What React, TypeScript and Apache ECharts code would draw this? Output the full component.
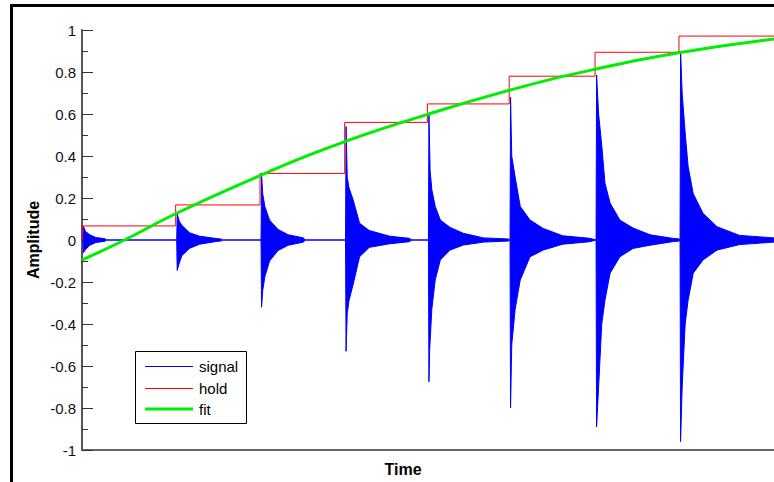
import React, { useEffect, useRef } from "react";
import * as echarts from "echarts";

// Burst onsets (seconds)
const burstOnsets = [0.012, 1.114, 2.106, 3.1, 4.075, 5.035, 6.047, 7.035];

// Upper envelope of each burst: [offset (s), amplitude]
const burstUpper: number[][][] = [
  [[0, 0], [0.005, 0.065], [0.03, 0.04], [0.08, 0.025], [0.15, 0.012], [0.26, 0.006], [0.27, 0]],
  [[0, 0], [0.006, 0.125], [0.03, 0.09], [0.06, 0.07], [0.15, 0.035], [0.27, 0.018], [0.45, 0.008], [0.53, 0.004], [0.54, 0]],
  [[0, 0], [0.006, 0.31], [0.02, 0.22], [0.045, 0.16], [0.1, 0.095], [0.2, 0.05], [0.32, 0.025], [0.5, 0.01], [0.52, 0]],
  [[0, 0], [0.006, 0.54], [0.02, 0.3], [0.04, 0.25], [0.09, 0.19], [0.165, 0.08], [0.28, 0.045], [0.52, 0.018], [0.75, 0.008], [0.78, 0]],
  [[0, 0], [0.006, 0.6], [0.02, 0.33], [0.04, 0.24], [0.08, 0.16], [0.14, 0.095], [0.255, 0.06], [0.41, 0.032], [0.65, 0.01], [0.94, 0.005]],
  [[0, 0], [0.006, 0.68], [0.02, 0.4], [0.06, 0.3], [0.12, 0.16], [0.235, 0.095], [0.39, 0.055], [0.62, 0.02], [0.94, 0.008]],
  [[0, 0], [0.006, 0.786], [0.03, 0.6], [0.067, 0.45], [0.105, 0.27], [0.165, 0.176], [0.28, 0.095], [0.435, 0.057], [0.635, 0.025], [0.9, 0.008], [0.98, 0.005]],
  [[0, 0], [0.006, 0.897], [0.025, 0.7], [0.06, 0.51], [0.095, 0.35], [0.155, 0.22], [0.27, 0.127], [0.435, 0.063], [0.7, 0.022], [1.105, 0.01]],
];

// Lower envelope of each burst: [offset (s), amplitude]
const burstLower: number[][][] = [
  [[0, 0], [0.005, -0.06], [0.03, -0.045], [0.08, -0.025], [0.15, -0.012], [0.26, -0.006], [0.27, 0]],
  [[0, 0], [0.006, -0.145], [0.03, -0.11], [0.06, -0.075], [0.15, -0.04], [0.27, -0.02], [0.45, -0.008], [0.53, -0.004], [0.54, 0]],
  [[0, 0], [0.006, -0.32], [0.02, -0.24], [0.045, -0.175], [0.1, -0.1], [0.2, -0.05], [0.32, -0.025], [0.5, -0.01], [0.52, 0]],
  [[0, 0], [0.006, -0.53], [0.02, -0.35], [0.04, -0.29], [0.09, -0.21], [0.165, -0.08], [0.28, -0.035], [0.52, -0.018], [0.75, -0.008], [0.78, 0]],
  [[0, 0], [0.006, -0.675], [0.015, -0.52], [0.04, -0.33], [0.08, -0.19], [0.14, -0.095], [0.255, -0.048], [0.41, -0.024], [0.65, -0.01], [0.94, -0.005]],
  [[0, 0], [0.006, -0.8], [0.02, -0.5], [0.06, -0.33], [0.12, -0.19], [0.235, -0.08], [0.39, -0.048], [0.62, -0.02], [0.94, -0.008]],
  [[0, 0], [0.006, -0.89], [0.03, -0.7], [0.067, -0.4], [0.105, -0.286], [0.165, -0.158], [0.28, -0.08], [0.435, -0.04], [0.635, -0.025], [0.9, -0.008], [0.98, -0.005]],
  [[0, 0], [0.006, -0.96], [0.025, -0.7], [0.06, -0.4], [0.095, -0.286], [0.155, -0.158], [0.27, -0.095], [0.435, -0.048], [0.7, -0.022], [1.105, -0.01]],
];

// Sample-and-hold
const holdTimes = [0, 0.005, 1.102, 2.094, 3.09, 4.063, 5.025, 6.035, 7.022, 8.14];
const holdValues = [0, 0.067, 0.167, 0.317, 0.56, 0.648, 0.78, 0.894, 0.971, 0.971];

// Fitted curve
const fitTimes = [0, 0.5, 1.1, 2.0, 2.9, 4.0, 5.0, 6.0, 7.0, 8.14];
const fitValues = [-0.095, 0.0, 0.125, 0.29, 0.44, 0.59, 0.71, 0.81, 0.89, 0.957];

const xMax = 8.14;

function buildEnvelope(sets: number[][][]): number[][] {
  const pts: number[][] = [[0, 0]];
  burstOnsets.forEach((t0, i) => {
    sets[i].forEach(([dt, v]) => pts.push([t0 + dt, v]));
  });
  return pts;
}

export default function App() {
  const ref = useRef<HTMLDivElement>(null);
  useEffect(() => {
    if (!ref.current) return;
    const chart = echarts.init(ref.current, null, { renderer: "svg" });
    const blue = "#0000ff";
    const option: any = {
      animation: false,
      backgroundColor: "#ffffff",
      grid: { left: 82, right: 0, top: 30, bottom: 32, containLabel: false },
      xAxis: {
        type: "value",
        min: 0,
        max: xMax,
        axisLine: { onZero: false, lineStyle: { color: "#666666", width: 2 } },
        axisTick: { show: false },
        axisLabel: { show: false },
        splitLine: { show: false },
      },
      yAxis: {
        type: "value",
        min: -1,
        max: 1,
        interval: 0.2,
        axisLine: { show: true, lineStyle: { color: "#555555", width: 2 } },
        axisTick: { show: true, inside: true, length: 11, lineStyle: { color: "#333333", width: 1 } },
        minorTick: { show: true, splitNumber: 2, length: 6, lineStyle: { color: "#333333", width: 1 } },
        axisLabel: { color: "#111111", fontFamily: "Arial, Liberation Sans", fontSize: 15, margin: 6 },
        splitLine: { show: false },
      },
      series: [
        {
          name: "signal",
          type: "line",
          data: buildEnvelope(burstUpper),
          symbol: "none",
          lineStyle: { color: blue, width: 1 },
          areaStyle: { color: blue, opacity: 1 },
          z: 1,
        },
        {
          name: "signal",
          type: "line",
          data: buildEnvelope(burstLower),
          symbol: "none",
          lineStyle: { color: blue, width: 1 },
          areaStyle: { color: blue, opacity: 1 },
          z: 1,
        },
        {
          name: "hold",
          type: "line",
          step: "end",
          data: holdTimes.map((t, i) => [t, holdValues[i]]),
          symbol: "none",
          lineStyle: { color: "#ff0000", width: 1 },
          z: 2,
        },
        {
          name: "fit",
          type: "line",
          smooth: true,
          data: fitTimes.map((t, i) => [t, fitValues[i]]),
          symbol: "none",
          lineStyle: { color: "#00ee00", width: 3 },
          z: 3,
        },
      ],
      graphic: [
        {
          type: "rect",
          shape: { x: 11.5, y: 5.5, width: 900, height: 900 },
          style: { fill: "none", stroke: "#000000", lineWidth: 3 },
          silent: true,
          z: 100,
        },
        {
          type: "text",
          x: 33,
          y: 240,
          rotation: Math.PI / 2,
          style: {
            text: "Amplitude",
            font: "bold 16px Arial, 'Liberation Sans'",
            fill: "#000000",
            textAlign: "center",
            textVerticalAlign: "middle",
          },
        },
        {
          type: "text",
          x: 403,
          y: 469,
          style: {
            text: "Time",
            font: "bold 16px Arial, 'Liberation Sans'",
            fill: "#000000",
            textAlign: "center",
            textVerticalAlign: "middle",
          },
        },
        {
          type: "group",
          z: 100,
          children: [
            {
              type: "rect",
              shape: { x: 135.5, y: 351.5, width: 111, height: 72 },
              style: { fill: "#ffffff", stroke: "#000000", lineWidth: 1 },
            },
            { type: "line", shape: { x1: 145, y1: 366.5, x2: 193, y2: 366.5 }, style: { stroke: blue, lineWidth: 1 } },
            { type: "line", shape: { x1: 145, y1: 388.5, x2: 193, y2: 388.5 }, style: { stroke: "#ff0000", lineWidth: 1 } },
            { type: "line", shape: { x1: 145, y1: 409, x2: 193, y2: 409 }, style: { stroke: "#00ee00", lineWidth: 3 } },
            { type: "text", x: 199, y: 366, style: { text: "signal", font: "15px Arial, 'Liberation Sans'", fill: "#000000", textVerticalAlign: "middle" } },
            { type: "text", x: 199, y: 388, style: { text: "hold", font: "15px Arial, 'Liberation Sans'", fill: "#000000", textVerticalAlign: "middle" } },
            { type: "text", x: 199, y: 409, style: { text: "fit", font: "15px Arial, 'Liberation Sans'", fill: "#000000", textVerticalAlign: "middle" } },
          ],
        },
      ],
    };
    chart.setOption(option);
    return () => chart.dispose();
  }, []);
  return (
    <div
      ref={ref}
      style={{ position: "fixed", left: 0, top: 0, width: 774, height: 482, background: "#fff" }}
    />
  );
}
